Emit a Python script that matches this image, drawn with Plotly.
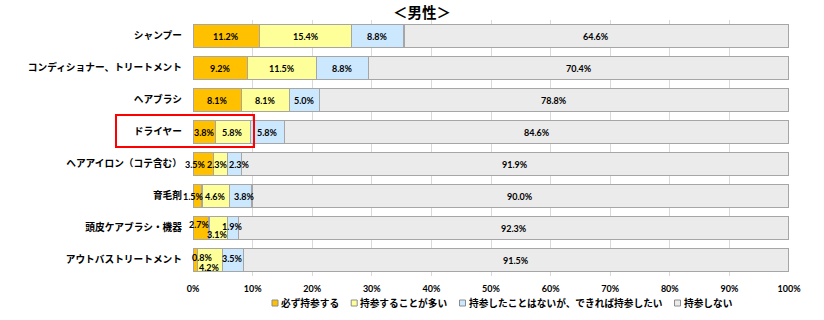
import plotly.graph_objects as go

categories = ["シャンプー", "コンディショナー、トリートメント", "ヘアブラシ", "ドライヤー",
              "ヘアアイロン（コテ含む）", "育毛剤", "頭皮ケアブラシ・機器", "アウトバストリートメント"]
series_names = ["必ず持参する", "持参することが多い", "持参したことはないが、できれば持参したい", "持参しない"]
s_always = [11.2, 9.2, 8.1, 3.8, 3.5, 1.5, 2.7, 0.8]
s_often = [15.4, 11.5, 8.1, 5.8, 2.3, 4.6, 3.1, 4.2]
s_want = [8.8, 8.8, 5.0, 5.8, 2.3, 3.8, 1.9, 3.5]
s_never = [64.6, 70.4, 78.8, 84.6, 91.9, 90.0, 92.3, 91.5]
tick_vals = [0, 10, 20, 30, 40, 50, 60, 70, 80, 90, 100]
tick_text = ["0%", "10%", "20%", "30%", "40%", "50%", "60%", "70%", "80%", "90%", "100%"]

series = [s_always, s_often, s_want, s_never]
colors = ["#FFC000", "#FFFF99", "#CCE8FF", "#EBEBEB"]

# label nudges in pixels (row, series) -> (xshift, yshift)
nudges = {
    (4, 0): (-8, 0), (4, 1): (-3, 0), (4, 2): (5, 0),
    (5, 0): (-4, 0), (5, 2): (4, 0),
    (6, 0): (-2, 4), (6, 1): (-1, -6), (6, 2): (-1, 2),
    (7, 0): (7, 3), (7, 1): (-1, -7), (7, 2): (-1, 2),
}

L, R, T, B = 193, 35, 20, 44
W, H = 824, 320
ph = H - T - B
pw = W - L - R


def px_x(x):
    return (x - L) / pw


def px_y(y):
    return (H - B - y) / ph


CJK = "Noto Sans CJK JP"
NUM = "Lato, 'Noto Sans CJK JP'"

fig = go.Figure()
for name, vals, col in zip(series_names, series, colors):
    fig.add_trace(go.Bar(
        y=categories, x=vals, name=name, orientation="h",
        marker=dict(color=col, line=dict(color="#A6A6A6", width=1.2)),
        showlegend=False,
    ))

annotations = []
for i, cat in enumerate(categories):
    cum = 0
    for j, vals in enumerate(series):
        v = vals[i]
        dx, dy = nudges.get((i, j), (0, 0))
        annotations.append(dict(
            x=cum + v / 2, y=cat, xref="x", yref="y", text=f"{v:.1f}%",
            showarrow=False, xshift=dx, yshift=dy, borderpad=0,
            font=dict(family=NUM, size=9, color="#000000", weight="bold"),
        ))
        cum += v

# title
annotations.append(dict(
    x=px_x(422), y=px_y(11), xref="paper", yref="paper", text="＜男性＞",
    showarrow=False, xanchor="center", yanchor="middle",
    font=dict(family=CJK, size=14.5, color="#000000", weight="bold"),
))

shapes = [dict(type="rect", xref="paper", yref="paper",
               x0=px_x(116), x1=px_x(254), y0=px_y(147), y1=px_y(115),
               line=dict(color="#FF0000", width=2), fillcolor="rgba(0,0,0,0)")]

# legend (drawn below the axis)
leg_font = 9.7
leg_y = 303
mx = 275
for name, col in zip(series_names, colors):
    shapes.append(dict(type="rect", xref="paper", yref="paper",
                       x0=px_x(mx - 3), x1=px_x(mx + 3), y0=px_y(leg_y + 3), y1=px_y(leg_y - 3),
                       line=dict(color="#8C8C8C", width=1), fillcolor=col))
    tx = mx + 5
    annotations.append(dict(
        x=px_x(tx), y=px_y(leg_y), xref="paper", yref="paper", text=name,
        showarrow=False, xanchor="left", yanchor="middle", borderpad=0,
        font=dict(family=CJK, size=leg_font, color="#000000", weight="bold"),
    ))
    mx = tx + 2 + len(name) * leg_font + 14

fig.update_layout(
    barmode="stack", bargap=0.3,
    width=W, height=H, margin=dict(l=L, r=R, t=T, b=B, autoexpand=False),
    paper_bgcolor="white", plot_bgcolor="white",
    annotations=annotations, shapes=shapes,
    showlegend=False,
    xaxis=dict(range=[0, 100], tickvals=tick_vals, ticktext=tick_text,
               showgrid=True, gridcolor="#D9D9D9", gridwidth=1, zeroline=False,
               showline=False, ticks="", ticklabelstandoff=6,
               tickfont=dict(family=NUM, size=9, color="#000000", weight="bold")),
    yaxis=dict(autorange="reversed", showgrid=False, ticks="", ticklabelstandoff=10,
               tickfont=dict(family=CJK, size=9.7, color="#000000", weight="bold")),
)

fig.write_html("out.html")
